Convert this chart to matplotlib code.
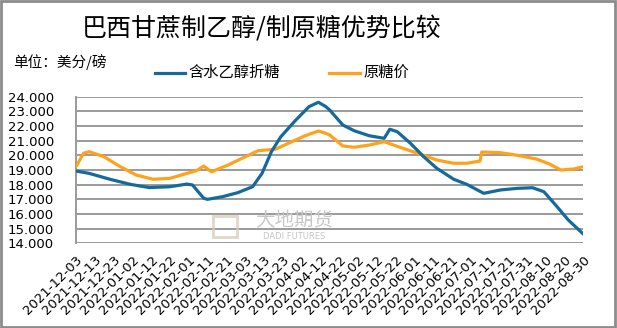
import matplotlib
matplotlib.use('Agg')
from matplotlib import pyplot as plt
from matplotlib.lines import Line2D
from matplotlib.patches import Rectangle
import pandas as pd

# 含水乙醇折糖 (美分/磅)
ethanol_dates = ['2021-12-03', '2021-12-10', '2021-12-21', '2022-01-01', '2022-01-11',
                 '2022-01-22', '2022-01-31', '2022-02-03', '2022-02-06', '2022-02-09',
                 '2022-02-11', '2022-02-19', '2022-02-27', '2022-03-07', '2022-03-12',
                 '2022-03-17', '2022-03-22', '2022-03-30', '2022-04-06', '2022-04-11',
                 '2022-04-15', '2022-04-17', '2022-04-24', '2022-04-30', '2022-05-08',
                 '2022-05-16', '2022-05-19', '2022-05-23', '2022-05-30', '2022-06-06',
                 '2022-06-13', '2022-06-22', '2022-06-29', '2022-07-08', '2022-07-17',
                 '2022-07-26', '2022-08-03', '2022-08-09', '2022-08-16', '2022-08-22',
                 '2022-08-30']
ethanol_vals = [18.93, 18.77, 18.37, 18.02, 17.80,
                17.86, 18.04, 17.98, 17.52, 17.07,
                17.00, 17.18, 17.45, 17.86, 18.77,
                20.25, 21.27, 22.41, 23.32, 23.62,
                23.32, 23.09, 22.07, 21.68, 21.34,
                21.16, 21.78, 21.61, 20.82, 19.91,
                19.12, 18.37, 18.02, 17.41, 17.64,
                17.75, 17.79, 17.52, 16.50, 15.59,
                14.63]

# 原糖价 (美分/磅)
sugar_dates = ['2021-12-03', '2021-12-07', '2021-12-10', '2021-12-18', '2021-12-26',
               '2022-01-04', '2022-01-13', '2022-01-22', '2022-01-31', '2022-02-05',
               '2022-02-09', '2022-02-13', '2022-02-22', '2022-03-03', '2022-03-10',
               '2022-03-19', '2022-03-26', '2022-04-04', '2022-04-11', '2022-04-15',
               '2022-04-17', '2022-04-24', '2022-04-30', '2022-05-08', '2022-05-16',
               '2022-05-26', '2022-06-04', '2022-06-13', '2022-06-22', '2022-06-29',
               '2022-07-06', '2022-07-07', '2022-07-17', '2022-07-26', '2022-08-05',
               '2022-08-12', '2022-08-18', '2022-08-25', '2022-08-30']
sugar_vals = [19.23, 20.14, 20.25, 19.90, 19.27,
              18.66, 18.37, 18.43, 18.77, 18.95,
              19.27, 18.88, 19.34, 19.90, 20.32,
              20.41, 20.82, 21.34, 21.66, 21.50,
              21.39, 20.64, 20.55, 20.70, 20.93,
              20.48, 20.09, 19.68, 19.46, 19.46,
              19.61, 20.23, 20.18, 20.00, 19.75,
              19.41, 19.00, 19.07, 19.23]

tick_dates = pd.date_range('2021-12-03', '2022-08-30', freq='10D')
y_ticks = [14, 15, 16, 17, 18, 19, 20, 21, 22, 23, 24]

blue = '#156a9c'
orange = '#ffa21a'
cjk = ['Noto Sans CJK SC', 'DejaVu Sans']

fig = plt.figure(figsize=(6.17, 3.28), dpi=100)
ax = fig.add_axes([0.1232, 0.2582, 0.8222, 0.447])

ax.plot(pd.to_datetime(sugar_dates), sugar_vals, color=orange, lw=2.3,
        solid_joinstyle='round', solid_capstyle='round', zorder=3)
ax.plot(pd.to_datetime(ethanol_dates), ethanol_vals, color=blue, lw=2.3,
        solid_joinstyle='round', solid_capstyle='round', zorder=4)

ax.set_xlim(tick_dates[0], tick_dates[-1])
ax.set_ylim(14, 24)
ax.set_yticks(y_ticks)
ax.set_yticklabels([f'{v:.3f}' for v in y_ticks], fontsize=9.5, family='DejaVu Sans')
ax.set_xticks(tick_dates)
ax.set_xticklabels([d.strftime('%Y-%m-%d') for d in tick_dates], rotation=45,
                   ha='right', va='top', rotation_mode='anchor', fontsize=9.5,
                   family='DejaVu Sans')
ax.tick_params(axis='y', length=0, pad=16)
ax.tick_params(axis='x', length=0, pad=7)
ax.grid(axis='y', color='#9a9a9a', lw=1.4)
ax.set_axisbelow(True)
for s in ['top', 'right', 'bottom']:
    ax.spines[s].set_visible(False)
ax.spines['left'].set_color('#9a9a9a')
ax.spines['left'].set_linewidth(1.4)

# watermark
fig.add_artist(Rectangle((213 / 617, 1 - 237 / 328), 24 / 617, 21 / 328,
                         transform=fig.transFigure, facecolor='none',
                         edgecolor='#d9cdb8', lw=2, alpha=0.8))
fig.text(294 / 617, 1 - 221 / 328, '大地期货', family=cjk, fontsize=14,
         color='#c8c8c8', ha='center', va='center')
fig.text(294 / 617, 1 - 236.5 / 328, 'DADI FUTURES', family='DejaVu Sans', fontsize=6,
         color='#c4c4c4', ha='center', va='center')

# titles
fig.text(262 / 617, 1 - 29 / 328, '巴西甘蔗制乙醇/制原糖优势比较', family=cjk,
         fontsize=18, ha='center', va='center')
fig.text(13 / 617, 1 - 62 / 328, '单位：美分/磅', family=cjk, fontsize=10.5,
         ha='left', va='center')

# legend
y_leg = 1 - 72.5 / 328
fig.add_artist(Line2D([155 / 617, 185 / 617], [y_leg, y_leg], color=blue, lw=2.3,
                      transform=fig.transFigure))
fig.text(188 / 617, y_leg, '含水乙醇折糖', family=cjk, fontsize=11, ha='left', va='center')
fig.add_artist(Line2D([329 / 617, 360 / 617], [y_leg, y_leg], color=orange, lw=2.3,
                      transform=fig.transFigure))
fig.text(363 / 617, y_leg, '原糖价', family=cjk, fontsize=11, ha='left', va='center')

# outer frame
fig.add_artist(Rectangle((0.002, 0.003), 0.995, 0.994, transform=fig.transFigure,
                         facecolor='none', edgecolor='#8c8c8c', lw=2))

fig.savefig('out.png', dpi=100)
